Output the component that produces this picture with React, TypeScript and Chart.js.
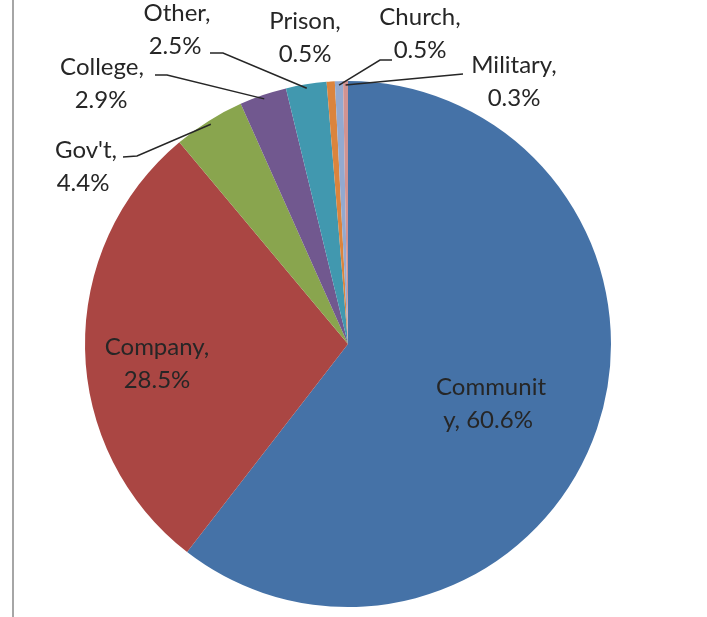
import React, { useEffect, useRef } from "react";
import { Chart, registerables } from "chart.js";

Chart.register(...registerables);

const categories = ["Community", "Company", "Gov't", "College", "Other", "Prison", "Church", "Military"];
const shares = [60.6, 28.5, 4.4, 2.9, 2.5, 0.5, 0.5, 0.3];
const sliceColors = ["#4572A7", "#AA4643", "#89A54E", "#71588F", "#4198AF", "#DB843D", "#93A9CF", "#D19392"];

// label layout (positions only)
type LabelLayout = { c1: number; c2: number; y: number; breakAt?: number; leader?: number[][] };
const labelLayout: LabelLayout[] = [
  { c1: 491, c2: 488, y: 395, breakAt: 8 },
  { c1: 157, c2: 157, y: 355 },
  { c1: 86, c2: 83, y: 158, leader: [[123, 157], [137, 156]] },
  { c1: 102, c2: 101, y: 75, leader: [[155, 75], [167, 75]] },
  { c1: 177, c2: 175, y: 21, leader: [[210, 53], [223, 53]] },
  { c1: 305, c2: 305, y: 29 },
  { c1: 420, c2: 420, y: 25, leader: [[392, 60], [380, 60]] },
  { c1: 514, c2: 514, y: 73, leader: [[463, 74]] },
];

function labelLines(i: number): string[] {
  const text = `${categories[i]}, ${shares[i].toFixed(1)}%`;
  const lay = labelLayout[i];
  if (lay.breakAt !== undefined) return [text.slice(0, lay.breakAt), text.slice(lay.breakAt)];
  const k = text.indexOf(", ");
  return [text.slice(0, k + 1), text.slice(k + 2)];
}

const labelPlugin = {
  id: "pieLabels",
  beforeDraw(chart: any) {
    const ctx = chart.ctx;
    ctx.save();
    ctx.fillStyle = "#ffffff";
    ctx.fillRect(0, 0, chart.width, chart.height);
    ctx.strokeStyle = "#A6A6A6";
    ctx.lineWidth = 2;
    ctx.beginPath();
    ctx.moveTo(13, 0);
    ctx.lineTo(13, chart.height);
    ctx.stroke();
    ctx.restore();
  },
  afterDraw(chart: any) {
    const ctx = chart.ctx;
    const meta = chart.getDatasetMeta(0);
    ctx.save();
    ctx.font = "24px Lato";
    ctx.fillStyle = "#262626";
    ctx.textAlign = "center";
    ctx.textBaseline = "alphabetic";
    meta.data.forEach((arc: any, i: number) => {
      const lay = labelLayout[i];
      if (!lay) return;
      const lines = labelLines(i);
      ctx.fillText(lines[0], lay.c1, lay.y);
      ctx.fillText(lines[1], lay.c2, lay.y + 33);
      if (lay.leader) {
        const p = arc.getProps(["x", "y", "startAngle", "endAngle", "outerRadius"], true);
        const mid = (p.startAngle + p.endAngle) / 2;
        const ex = p.x + Math.cos(mid) * p.outerRadius * 0.985;
        const ey = p.y + Math.sin(mid) * p.outerRadius * 0.985;
        ctx.strokeStyle = "#262626";
        ctx.lineWidth = 1.5;
        ctx.beginPath();
        ctx.moveTo(lay.leader[0][0], lay.leader[0][1]);
        for (let k = 1; k < lay.leader.length; k++) ctx.lineTo(lay.leader[k][0], lay.leader[k][1]);
        ctx.lineTo(ex, ey);
        ctx.stroke();
      }
    });
    ctx.restore();
  },
};

export default function App() {
  const ref = useRef<HTMLCanvasElement | null>(null);
  useEffect(() => {
    if (!ref.current) return;
    const chart = new Chart(ref.current, {
      type: "pie",
      data: {
        labels: categories,
        datasets: [
          {
            data: shares,
            backgroundColor: sliceColors,
            borderWidth: 0,
          },
        ],
      },
      options: {
        responsive: false,
        animation: false,
        devicePixelRatio: 1,
        layout: { padding: { left: 85, top: 81, right: 96, bottom: 10 } },
        plugins: {
          legend: { display: false },
          title: { display: false },
          tooltip: { enabled: false },
        },
      },
      plugins: [labelPlugin],
    });
    return () => chart.destroy();
  }, []);
  return (
    <div style={{ position: "fixed", left: 0, top: 0, width: 707, height: 617, background: "#fff" }}>
      <canvas ref={ref} width={707} height={617} style={{ width: 707, height: 617, display: "block" }} />
    </div>
  );
}
